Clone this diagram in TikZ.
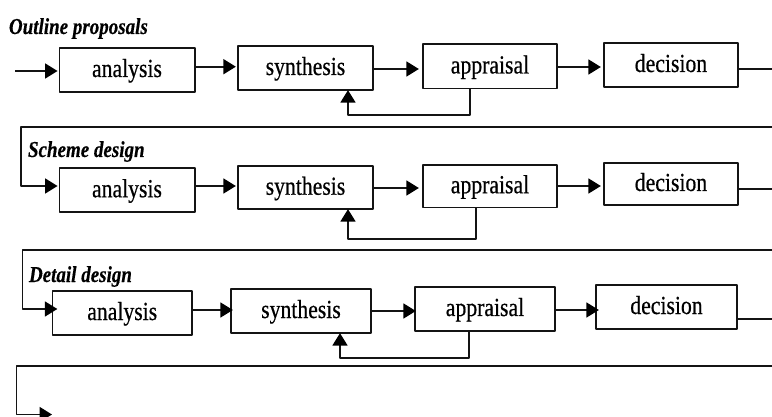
\documentclass[tikz,border=0pt]{standalone}
\usepackage{fontspec}
\usepackage{graphicx}
\setmainfont{Liberation Serif}
\newfontfamily\boxfont[FakeBold=0.6]{Liberation Serif}
\newfontfamily\headfont[FakeBold=0.4]{Liberation Serif Bold Italic}
\usetikzlibrary{arrows.meta}
\definecolor{ink}{HTML}{141414}
\newcommand{\boxtext}[1]{\scalebox{1}[1.2]{\fontsize{21.7}{24}\boxfont #1}}
\newcommand{\headtext}[1]{\scalebox{1}[1.2]{\fontsize{19}{22}\headfont #1}}
\tikzset{
  x=1pt,y=-1pt,
  stagebox/.style={draw=ink,line width=1.7pt,inner sep=0pt,outer sep=0pt,text=black,
    text height=14pt,text depth=0pt,align=center,line join=round},
  head/.style={anchor=base west,inner sep=0pt,outer sep=0pt,text=black},
  conn/.style={draw=ink,line width=1.8pt,line join=round},
  flow/.style={conn,-{Triangle[length=12.5pt,width=15pt,color=black]}},
}
\newcommand{\stage}[6]{% name, x1,y1,x2,y2,text
  \pgfmathsetmacro{\bw}{#4-#2}\pgfmathsetmacro{\bh}{#5-#3}
  \node[stagebox,minimum width=\bw pt-1.7pt,minimum height=\bh pt-1.7pt] (#1) at ({(#2+#4)/2},{(#3+#5)/2}) {\boxtext{#6}};}
\newcommand{\hflow}[4]{% from,to,y,tip shift
  \coordinate (ly) at (0,#3);
  \draw[flow,shorten >=#4pt] (#1.east |- ly) -- (#2.west |- ly);}
\newcommand{\hout}[3]{% from,name of free end,y
  \coordinate (#2) at (772,#3);
  \draw[conn] (#1.east |- #2) -- (#2);}
\begin{document}
\begin{tikzpicture}
\useasboundingbox[clip] (0,0) rectangle (772,417);
% row 1
\stage{a1}{58.5}{47}{195.5}{93}{analysis}
\stage{b1}{237}{45}{374}{91}{synthesis}
\stage{c1}{422}{43.5}{558}{89.5}{appraisal}
\stage{d1}{603}{42}{739}{88}{decision}
% row 2
\stage{a2}{58.5}{167.5}{195.5}{213}{analysis}
\stage{b2}{237}{165.5}{374}{210}{synthesis}
\stage{c2}{422}{164}{558}{208.5}{appraisal}
\stage{d2}{603}{162}{739}{206}{decision}
% row 3
\stage{a3}{51.5}{290}{193}{336}{analysis}
\stage{b3}{230}{288}{372}{334}{synthesis}
\stage{c3}{414}{286}{556}{332}{appraisal}
\stage{d3}{595}{284}{738}{330}{decision}
% headings
\node[head] (h1) at (9,34) {\headtext{Outline proposals}};
\node[head] (h2) at (28,157) {\headtext{Scheme design}};
\node[head] (h3) at (29,282) {\headtext{Detail design}};
% entry
\coordinate (start) at (15,71);
\draw[flow,shorten >=1.8pt] (start) -- (a1.west |- start);
% row 1 flows
\hflow{a1}{b1}{66.7}{2}
\hflow{b1}{c1}{69}{4}
\hflow{c1}{d1}{67}{3}
\hout{d1}{o1}{69}
% row 2 flows
\hflow{a2}{b2}{186}{2}
\hflow{b2}{c2}{188}{4}
\hflow{c2}{d2}{186}{3}
\hout{d2}{o2}{189}
% row 3 flows
\hflow{a3}{b3}{310}{-2}
\hflow{b3}{c3}{311}{-1}
\hflow{c3}{d3}{310}{-3}
\hout{d3}{o3}{319}
% feedback
\coordinate (f1) at (470,115);
\coordinate (g1) at (348,115);
\draw[flow,shorten >=0pt] (c1.south -| f1) -- (f1) -- (g1) -- (b1.south -| g1);
\coordinate (f2) at (476,239);
\coordinate (g2) at (348,239);
\draw[flow,shorten >=0pt] (c2.south -| f2) -- (f2) -- (g2) -- (b2.south -| g2);
\coordinate (f3) at (469,358);
\coordinate (g3) at (340,358);
\draw[flow,shorten >=0pt] (c3.south -| f3) -- (f3) -- (g3) -- (b3.south -| g3);
% wraps
\coordinate (w1) at (772,127);
\coordinate (w1b) at (21,127);
\coordinate (w1c) at (21,186);
\draw[flow,shorten >=1.8pt] (w1) -- (w1b) -- (w1c) -- (a2.west |- w1c);
\coordinate (w2) at (772,250);
\coordinate (w2b) at (22.5,250);
\coordinate (w2c) at (22.5,309);
\draw[flow,shorten >=-5pt] (w2) -- (w2b) -- (w2c) -- (a3.west |- w2c);
\coordinate (w3) at (772,366);
\coordinate (w3b) at (16.5,366);
\coordinate (w3c) at (16.5,414.5);
\coordinate (w3d) at (52,414.5);
\draw[flow] (w3) -- (w3b) -- (w3c) -- (w3d);
\end{tikzpicture}
\end{document}
